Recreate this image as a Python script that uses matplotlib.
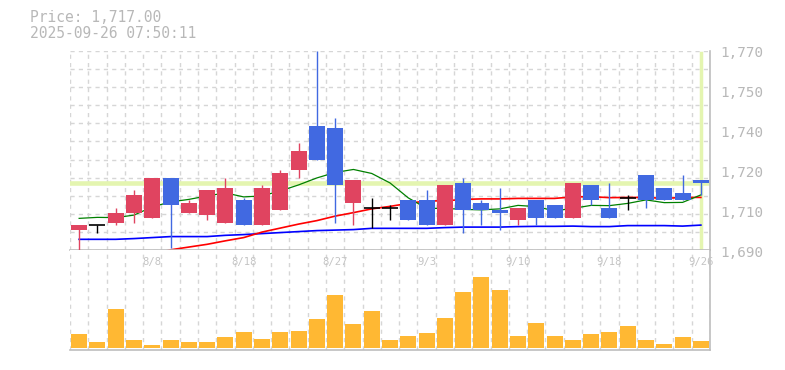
import matplotlib
matplotlib.use("Agg")
import matplotlib.pyplot as plt
import matplotlib.transforms as mtransforms
import numpy as np

# daily candles (oldest -> newest)
opens  = [1698, 1700, 1701, 1705, 1703, 1719, 1705, 1704, 1701, 1710, 1700, 1706, 1722, 1740, 1739, 1709, 1707, 1707,
          1710, 1710, 1700, 1717, 1709, 1706, 1702, 1710, 1708, 1703, 1716, 1707, 1711, 1720, 1715, 1713, 1718]
highs  = [1700, 1700, 1707, 1714, 1719, 1719, 1710, 1714, 1719, 1711, 1716, 1722, 1733, 1770, 1743, 1718, 1711, 1708,
          1710, 1714, 1716, 1719, 1710, 1715, 1707, 1710, 1708, 1717, 1716, 1717, 1712, 1720, 1715, 1720, 1718]
lows   = [1690, 1697, 1700, 1701, 1703, 1691, 1705, 1702, 1701, 1700, 1700, 1706, 1719, 1726, 1701, 1700, 1699, 1702,
          1702, 1700, 1700, 1697, 1700, 1698, 1700, 1700, 1703, 1703, 1708, 1703, 1706, 1707, 1710, 1710, 1712]
closes = [1700, 1700, 1705, 1712, 1719, 1708, 1709, 1714, 1715, 1700, 1715, 1721, 1730, 1726, 1716, 1718, 1707, 1707,
          1702, 1700, 1716, 1706, 1706, 1705, 1707, 1703, 1703, 1717, 1710, 1703, 1711, 1710, 1710, 1710, 1717]
volumes = [1400, 600, 3900, 800, 300, 800, 600, 600, 1100, 1600, 900, 1600, 1700, 2900, 5300, 2400, 3700, 800,
           1200, 1500, 3000, 5600, 7100, 5800, 1200, 2500, 1200, 800, 1400, 1600, 2200, 800, 400, 1100, 700]

# moving averages
ma_short = [1702.8, 1703.2, 1703.1, 1704.1, 1707.4, 1709.4, 1710.4, 1711.8, 1713.0, 1711.4, 1711.8, 1713.8, 1716.2,
            1719.0, 1721.2, 1722.4, 1720.8, 1717.0, 1711.0, 1706.8, 1706.8, 1706.4, 1706.2, 1706.6, 1708.0, 1707.5,
            1705.8, 1706.8, 1708.0, 1707.9, 1708.8, 1710.2, 1709.1, 1709.2, 1712.2]
ma_mid = [1683.5, 1684.7, 1685.9, 1687.1, 1688.5, 1690.2, 1691.3, 1692.4, 1693.8, 1695.1, 1697.3, 1698.9, 1700.5,
          1701.9, 1703.7, 1705.1, 1706.6, 1707.6, 1708.8, 1709.8, 1709.8, 1710.4, 1710.6, 1710.6, 1710.8, 1710.8,
          1710.8, 1711.4, 1711.5, 1711.1, 1711.2, 1711.2, 1710.8, 1711.2, 1711.2]
ma_long = [1694.4, 1694.4, 1694.4, 1694.7, 1695.1, 1695.5, 1695.5, 1695.5, 1696.0, 1696.3, 1696.7, 1697.1, 1697.5,
           1697.9, 1698.1, 1698.3, 1698.8, 1698.8, 1698.8, 1698.8, 1699.1, 1699.3, 1699.3, 1699.3, 1699.5, 1699.6,
           1699.6, 1699.7, 1699.5, 1699.5, 1699.9, 1699.9, 1699.9, 1699.7, 1700.1]

date_idx = [4, 9, 14, 19, 24, 29, 34]
date_labels = ['8/8', '8/18', '8/27', '9/3', '9/10', '9/18', '9/26']
price_ticks = [1690, 1706, 1722, 1738, 1754, 1770]
price_now = 1717.00
timestamp = '2025-09-26 07:50:11'

UP = '#e04460'
DOWN = '#4169e1'
VOL = '#ffb833'
MARK = '#e4f5b0'
GRID = '#d6d6d6'
TXT = '#b8b8b8'
FRAME = '#bdbdbd'
FONT = 'DejaVu Sans Mono'

n = len(opens)
x = np.arange(n)
W, H = 785, 370
fig = plt.figure(figsize=(W / 100, H / 100), dpi=100)
ax1 = fig.add_axes([70 / W, 1 - 250.3 / H, 640 / W, 199.6 / H])
ax2 = fig.add_axes([70 / W, 20 / H, 640 / W, 100.3 / H])

bounds = np.arange(n + 1) - 0.5
for ax in (ax1, ax2):
    ax.set_xlim(-0.5, n - 0.5)
    ax.set_xticks(bounds)
    ax.tick_params(length=0, labelbottom=False, labelleft=False)
    ax.grid(True, axis='x', ls=(0, (3, 3)), color=GRID, lw=1)
    for s in ('top', 'left'):
        ax.spines[s].set_visible(False)
    for s in ('bottom', 'right'):
        ax.spines[s].set_color(FRAME)
        ax.spines[s].set_linewidth(1.2)
    ax.set_axisbelow(True)

# price panel
ax1.set_ylim(1690, 1770)
ax1.set_yticks(np.linspace(1690, 1770, 12))
ax1.grid(True, axis='y', ls=(0, (3, 3)), color=GRID, lw=1)

ax1.axhline(price_now, color=MARK, lw=3.3, zorder=1)
ax1.axvline(n - 1, ymin=0.01, ymax=0.99, color=MARK, lw=2.5, zorder=1)

ax1.plot(x, ma_long, color='#0000ff', lw=1.2, zorder=2)
ax1.plot(x, ma_mid, color='#ff0000', lw=1.2, zorder=2)
ax1.plot(x, ma_short, color='#008000', lw=0.9, zorder=2)

for i in range(n):
    o, h, l, c = opens[i], highs[i], lows[i], closes[i]
    if c > o:
        col = UP
    elif c < o:
        col = DOWN
    else:
        col = 'black'
    ax1.vlines(i, l, h, color=col, lw=1, zorder=3)
    if c == o:
        ax1.hlines(c, i - 0.44, i + 0.44, color='black', lw=1.2, zorder=3)
    else:
        ax1.bar(i, abs(c - o), bottom=min(o, c), width=0.875, color=col, zorder=4)

off = mtransforms.offset_copy(mtransforms.blended_transform_factory(ax1.transAxes, ax1.transData),
                              fig=fig, x=10, y=-2.6, units='dots')
for v in price_ticks:
    lab = '{:,}'.format(int(round(v, -1)))
    ax1.text(1, v, lab, transform=off, ha='left', va='center', color=TXT, fontsize=10.3, family=FONT,
             clip_on=False)

# volume panel
ax2.set_ylim(-200, 9800)
ax2.set_yticks([])
ax2.bar(x, volumes, width=0.875, color=VOL, zorder=3)
for i, lab in zip(date_idx, date_labels):
    ax2.text(i, 0.877, lab, transform=ax2.get_xaxis_transform(), ha='center', va='center',
             color='#c4c4c4', fontsize=7.6, family=FONT)

fig.text(30 / W, 1 - 18 / H, 'Price: {:,.2f}'.format(price_now), ha='left', va='center',
         color=TXT, fontsize=10.5, family=FONT)
fig.text(30 / W, 1 - 33 / H, timestamp, ha='left', va='center', color=TXT, fontsize=10.5, family=FONT)

fig.savefig('out.png', dpi=100)
